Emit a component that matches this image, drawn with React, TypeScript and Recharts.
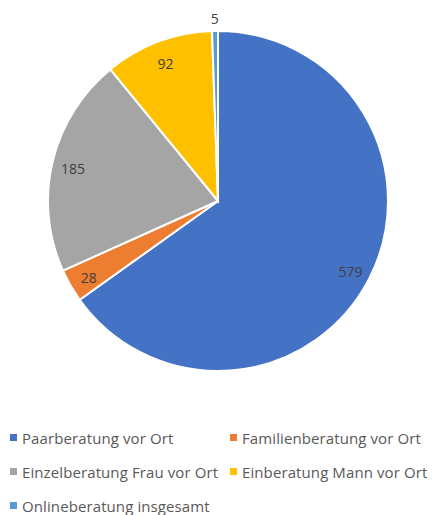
import React from "react";
import { PieChart, Pie, Cell, Legend } from "recharts";

const categories = [
  "Paarberatung vor Ort",
  "Familienberatung vor Ort",
  "Einzelberatung Frau vor Ort",
  "Einberatung Mann vor Ort",
  "Onlineberatung insgesamt",
];
const values = [579, 28, 185, 92, 5];
const colors = ["#4472C4", "#ED7D31", "#A5A5A5", "#FFC000", "#5B9BD5"];

const data = categories.map((name, i) => ({ name, value: values[i] }));

const RADIAN = Math.PI / 180;

function renderLabel(props: any) {
  const { cx, cy, midAngle, outerRadius, value } = props;
  const r = value < 10 ? outerRadius + 15 : outerRadius - 21;
  const x = cx + r * Math.cos(-midAngle * RADIAN);
  const y = cy + r * Math.sin(-midAngle * RADIAN) + 2;
  return (
    <text
      x={x}
      y={y}
      fill="#404040"
      fontSize={14}
      fontFamily="'Open Sans', sans-serif"
      textAnchor="middle"
      dominantBaseline="central"
    >
      {value}
    </text>
  );
}

function renderLegend(props: any) {
  const payload = [...(props.payload || [])].sort(
    (a: any, b: any) => categories.indexOf(a.value) - categories.indexOf(b.value)
  );
  return (
    <div
      style={{
        display: "grid",
        gridTemplateColumns: "220px 212px",
        rowGap: 13,
        fontFamily: "'Open Sans', sans-serif",
        fontSize: 15,
        letterSpacing: 0.1,
        color: "#595959",
      }}
    >
      {payload.map((entry: any) => (
        <div
          key={entry.value}
          style={{ display: "flex", alignItems: "center", paddingLeft: 10, height: 21 }}
        >
          <span
            style={{
              width: 7,
              height: 7,
              background: entry.color,
              marginRight: 5,
              display: "inline-block",
            }}
          />
          <span style={{ whiteSpace: "nowrap" }}>{entry.value}</span>
        </div>
      ))}
    </div>
  );
}

export default function App() {
  return (
    <div style={{ position: "absolute", left: 0, top: 0, width: 432, height: 515, background: "#fff" }}>
      <PieChart width={432} height={515} margin={{ top: 0, right: 0, bottom: 0, left: 0 }}>
        <Pie
          data={data}
          dataKey="value"
          nameKey="name"
          cx={218}
          cy={201}
          outerRadius={170}
          startAngle={90}
          endAngle={-270}
          stroke="#ffffff"
          strokeWidth={2}
          label={renderLabel}
          labelLine={false}
          isAnimationActive={false}
        >
          {data.map((d, i) => (
            <Cell key={d.name} fill={colors[i]} />
          ))}
        </Pie>
        <Legend
          content={renderLegend}
          wrapperStyle={{ left: 0, top: 427, width: 432 }}
        />
      </PieChart>
    </div>
  );
}
